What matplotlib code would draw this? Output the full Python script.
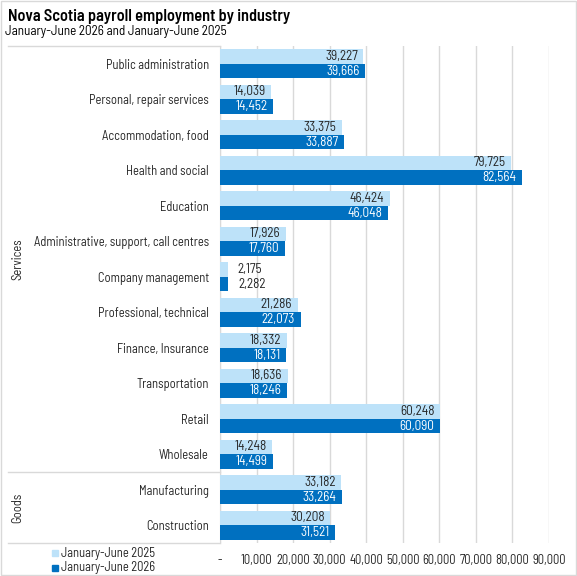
import matplotlib
matplotlib.use("Agg")
import matplotlib.pyplot as plt
from matplotlib.lines import Line2D
from matplotlib.patches import Rectangle
import numpy as np

plt.rcParams['font.family'] = ['Barlow Semi Condensed', 'DejaVu Sans']

# data, top to bottom as in the chart
industries = ["Public administration", "Personal, repair services", "Accommodation, food",
              "Health and social", "Education", "Administrative, support, call centres",
              "Company management", "Professional, technical", "Finance, Insurance",
              "Transportation", "Retail", "Wholesale", "Manufacturing", "Construction"]
groups = ["Services", "Goods"]
group_sizes = [12, 2]
jun_2025 = [39227, 14039, 33375, 79725, 46424, 17926, 2175, 21286, 18332, 18636,
            60248, 14248, 33182, 30208]
jun_2026 = [39666, 14452, 33887, 82564, 46048, 17760, 2282, 22073, 18131, 18246,
            60090, 14499, 33264, 31521]
series_names = ["January-June 2025", "January-June 2026"]
xticks = [0, 10000, 20000, 30000, 40000, 50000, 60000, 70000, 80000, 90000]

light = "#BDE2F9"
dark = "#0070C0"
grid_c = "#D9D9D9"
text_c = "#262626"

W, H = 577, 576
fig = plt.figure(figsize=(W / 100, H / 100), dpi=100)

def fx(px):
    return px / W

def fy(py):
    return 1 - py / H

left, right, top, bottom = 220, 549, 46, 543
ax = fig.add_axes([fx(left), fy(bottom), fx(right) - fx(left), fy(top) - fy(bottom)])

n = len(industries)
y = np.arange(n)
bh = 0.41
ax.barh(y - bh / 2, jun_2025, height=bh, color=light, zorder=3)
ax.barh(y + bh / 2, jun_2026, height=bh, color=dark, zorder=3)

ax.set_ylim(n - 0.5, -0.5)
ax.set_xlim(0, 90000)
ax.set_xticks(xticks)
ax.set_xticklabels(["-" if t == 0 else f"{t:,}" for t in xticks], fontsize=9, color=text_c)
ax.set_yticks(y)
ax.set_yticklabels(industries, fontsize=9, color=text_c)
ax.tick_params(axis='both', length=0)
ax.tick_params(axis='x', pad=8)
ax.tick_params(axis='y', pad=8)
ax.grid(axis='x', color=grid_c, linewidth=1, zorder=0)
for s in ["top", "right", "bottom"]:
    ax.spines[s].set_visible(False)
ax.spines["left"].set_color(grid_c)

# value labels
for i in range(n):
    for v, dy, inside_color in [(jun_2025[i], -bh / 2, text_c), (jun_2026[i], bh / 2, "white")]:
        if v > 6000:
            ax.annotate(f"{v:,}", (v, i + dy), xytext=(-4, 0), textcoords="offset points",
                        ha="right", va="center", fontsize=9.5, color=inside_color, zorder=4)
        else:
            ax.annotate(f"{v:,}", (v, i + dy), xytext=(7, 0), textcoords="offset points",
                        ha="left", va="center", fontsize=9.5, color=text_c, zorder=4)

# category group bracket lines and labels
row_h = (bottom - top) / n
start = 0
bounds = [top]
for g, size in zip(groups, group_sizes):
    y0 = top + start * row_h
    y1 = top + (start + size) * row_h
    bounds.append(y1)
    fig.text(fx(18), fy((y0 + y1) / 2), g, rotation=90, ha="center", va="center",
             fontsize=9, color=text_c)
    start += size
for b in bounds:
    fig.add_artist(Line2D([fx(8), fx(left)], [fy(b), fy(b)], color=grid_c, linewidth=1))

# title
fig.text(fx(8), fy(16), "Nova Scotia payroll employment by industry", fontsize=11.7,
         fontweight="semibold", color="black", va="center")
fig.text(fx(5), fy(31), "January-June 2026 and January-June 2025", fontsize=9.5,
         color="black", va="center")

# legend
for k, (name, c) in enumerate(zip(series_names, [light, dark])):
    yy = 553 + k * 15
    fig.add_artist(Rectangle((fx(52), fy(yy + 3)), fx(6), 6 / H, color=c))
    fig.text(fx(61), fy(yy), name, fontsize=9, color=text_c, va="center")

# outer border
fig.add_artist(Rectangle((0.001, 0.001), 0.997, 0.997, fill=False, edgecolor="#D9D9D9",
                         linewidth=1))

fig.savefig("out.png", dpi=100)
